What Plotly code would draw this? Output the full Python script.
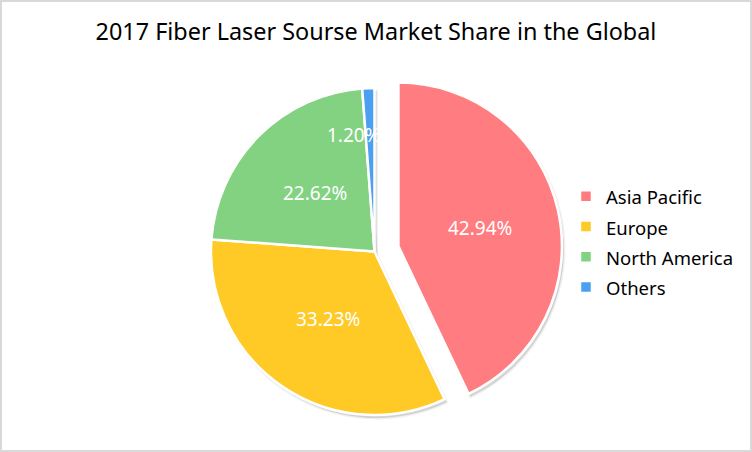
import math
import plotly.graph_objects as go

# ---- data ----
regions = ["Asia Pacific", "Europe", "North America", "Others"]
shares = [42.94, 33.23, 22.62, 1.20]
pulls = [0.15, 0, 0, 0]
colors = ["#FF7C80", "#FFC926", "#82D282", "#4BA0F2"]
title_text = "2017 Fiber Laser Sourse Market Share in the Global"

# ---- layout geometry (pixels) ----
W, H = 752, 452
CX, CY, R = 374.5, 251.5, 163.5
PULL = max(pulls)
half_box = R * (1 + PULL)


def dom(cx, cy):
    return (dict(x=[(cx - half_box) / W, (cx + half_box) / W],
                 y=[(H - cy - half_box) / H, (H - cy + half_box) / H]))


FONT = "Noto Sans"

legend_labels = [f"<span style='font-size:18.5px'>{c}</span>" for c in regions]

# soft shadow behind the pie
fig = go.Figure(go.Pie(
    labels=legend_labels, values=shares, pull=pulls, sort=False,
    direction="clockwise", rotation=0, textinfo="none",
    marker=dict(colors=["rgba(0,0,0,0.13)"] * len(regions),
                line=dict(color="rgba(0,0,0,0.06)", width=3)),
    domain=dom(CX + 2, CY + 3), showlegend=False, hoverinfo="skip",
))

fig.add_trace(go.Pie(
    labels=legend_labels,
    values=shares,
    pull=pulls,
    sort=False,
    direction="clockwise",
    rotation=0,
    textinfo="none",
    marker=dict(colors=colors, line=dict(color="white", width=2.5)),
    domain=dom(CX, CY),
    hovertemplate="%{label}: %{value:.2f}%<extra></extra>",
))

# data labels placed along each slice bisector (computed from the values)
total = sum(shares)
cum = 0.0
label_frac = [0.51, 0.5, 0.51, 0.71]
label_shift = [0, 0, 0, -16]
for name, v, p, f, sh in zip(regions, shares, pulls, label_frac, label_shift):
    mid = (cum + v / 2) / total * 2 * math.pi
    cum += v
    dx, dy = math.sin(mid), -math.cos(mid)
    px = CX + dx * R * (p + f)
    py = CY + dy * R * (p + f)
    fig.add_annotation(
        x=px / W, y=1 - py / H, xref="paper", yref="paper",
        xanchor="center", yanchor="middle",
        text=f"{v:.2f}%", showarrow=False, xshift=sh,
        font=dict(family=FONT, size=19, color="white"),
    )

fig.add_shape(type="rect", xref="paper", yref="paper",
              x0=1 / W, y0=1 / H, x1=1 - 1 / W, y1=1 - 1 / H,
              line=dict(color="#D9D9D9", width=2), layer="above")

fig.update_layout(
    width=W, height=H,
    margin=dict(l=0, r=0, t=0, b=0),
    paper_bgcolor="white",
    plot_bgcolor="white",
    title=dict(text=title_text, x=0.5, xanchor="center", y=1 - 32 / H, yanchor="middle",
               font=dict(family=FONT, size=23.4, color="black")),
    legend=dict(x=566 / W, y=1 - 176 / H, xanchor="left", yanchor="top",
                font=dict(family=FONT, size=21, color="black"),
                bgcolor="rgba(0,0,0,0)", itemwidth=30),
    showlegend=True,
)

fig.write_html("out.html", config={"displayModeBar": False},
               post_script="document.body.style.margin='0';document.body.style.overflow='hidden';")
